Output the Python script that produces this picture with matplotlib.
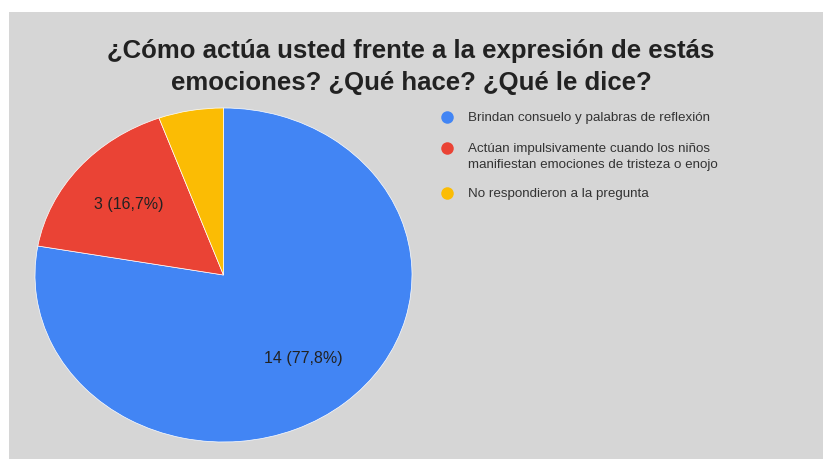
import matplotlib.pyplot as plt
from matplotlib.patches import Rectangle

# Respuestas de los docentes
categorias = [
    "Brindan consuelo y palabras de reflexión",
    "Actúan impulsivamente cuando los niños\nmanifiestan emociones de tristeza o enojo",
    "No respondieron a la pregunta",
]
cantidades = [14, 3, 1]
colores = ["#4285F4", "#EA4335", "#FBBC04"]
titulo = "¿Cómo actúa usted frente a la expresión de estás\nemociones? ¿Qué hace? ¿Qué le dice?"

W, H = 825, 459
fig = plt.figure(figsize=(W / 100, H / 100), dpi=100, facecolor="white")
plt.rcParams["font.family"] = ["Liberation Sans", "DejaVu Sans"]

# fondo gris del gráfico
fig.patches.append(Rectangle((9 / W, 0), (823 - 9) / W, (H - 12) / H,
                             transform=fig.transFigure, facecolor="#d6d6d6",
                             edgecolor="none", zorder=-5))

total = sum(cantidades)


def etiqueta(pct):
    n = round(pct * total / 100)
    if n < 2:
        return ""
    return f"{n} ({pct:.1f}%)".replace(".", ",")


ax = fig.add_axes([35 / W, (H - 442) / H, 377 / W, 334 / H], zorder=2)
ax.pie(cantidades, colors=colores, startangle=90, counterclock=False,
       autopct=etiqueta, pctdistance=0.655,
       wedgeprops=dict(edgecolor="white", linewidth=0.5),
       textprops=dict(fontsize=11.5, color="#222222"))
ax.set_aspect("auto")
ax.set_xlim(-1, 1)
ax.set_ylim(-1, 1)

fig.text(411 / W, 1 - 67 / H, titulo, ha="center", va="center",
         fontsize=18.5, fontweight="bold", color="#222222", linespacing=1.45)

# leyenda: círculo alineado con la primera línea de cada texto
for i, (cat, col) in enumerate(zip(categorias, colores)):
    y_punto = [117, 148, 193][i]
    fig.lines.append(plt.Line2D([447 / W], [1 - y_punto / H], marker="o",
                                markersize=9, markerfacecolor=col,
                                markeredgecolor="none", linestyle="none",
                                transform=fig.transFigure))
    fig.text(468 / W, 1 - (y_punto - 4.5) / H, cat, ha="left", va="top",
             fontsize=9.6, color="#333333", linespacing=1.35)

fig.savefig("out.png", dpi=100, facecolor="white")
